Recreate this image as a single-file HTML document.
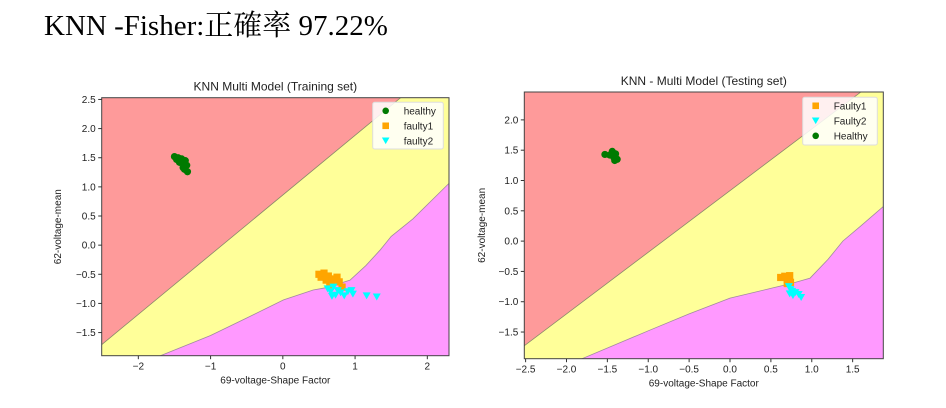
<!DOCTYPE html>
<html><head><meta charset="utf-8">
<style>
body{margin:0;background:#fff;width:946px;height:408px;overflow:hidden;position:relative}
#title{position:absolute;left:44px;top:3px;font:29px "Liberation Serif","Noto Serif CJK SC",serif;color:#000;white-space:nowrap}
svg{position:absolute;left:0;top:0}
text{font-family:"Liberation Sans","DejaVu Sans",sans-serif;fill:#222}
</style></head><body>
<div id="title">KNN -Fisher:正確率 97.22%</div>
<svg id="svg" width="946" height="408"></svg>
<script>
// Boundary data (data coordinates)
const redYellowTrain = [[-2.51,-1.71],[1.65,2.55]];
const magentaTrain = [[-1.70,-1.9],[-1.0,-1.55],[-0.5,-1.25],[0.01,-0.94],[0.42,-0.77],[0.6,-0.73],[0.93,-0.6],[1.15,-0.35],[1.35,-0.08],[1.5,0.15],[1.8,0.45],[2.3,1.06]];
const redYellowTest = [[-2.52,-1.73],[1.61,2.47]];
const magentaTest = [[-1.81,-1.94],[-1.0,-1.48],[-0.5,-1.2],[0,-0.94],[0.53,-0.77],[0.75,-0.7],[0.98,-0.61],[1.2,-0.3],[1.38,0.0],[1.6,0.25],[1.875,0.57]];
const healthyTrain = [[-1.5,1.52],[-1.47,1.47],[-1.45,1.5],[-1.42,1.44],[-1.4,1.48],[-1.38,1.4],[-1.35,1.45],[-1.33,1.37],[-1.36,1.3],[-1.32,1.26],[-1.43,1.42],[-1.38,1.33]];
const faulty1Train = [[0.5,-0.5],[0.53,-0.55],[0.57,-0.48],[0.6,-0.6],[0.63,-0.53],[0.68,-0.62],[0.72,-0.58],[0.75,-0.55],[0.65,-0.68],[0.78,-0.63],[0.82,-0.72]];
const faulty2Train = [[0.62,-0.75],[0.66,-0.8],[0.7,-0.72],[0.73,-0.86],[0.76,-0.78],[0.8,-0.82],[0.85,-0.87],[0.9,-0.8],[0.95,-0.78],[0.97,-0.84],[1.16,-0.87],[1.3,-0.89],[0.68,-0.88]];
const healthyTest = [[-1.53,1.43],[-1.47,1.42],[-1.44,1.48],[-1.42,1.38],[-1.4,1.44],[-1.38,1.35],[-1.41,1.33]];
const faulty1Test = [[0.62,-0.6],[0.67,-0.58],[0.7,-0.63],[0.73,-0.57],[0.7,-0.7],[0.74,-0.68]];
const faulty2Test = [[0.72,-0.75],[0.74,-0.8],[0.73,-0.87],[0.77,-0.9],[0.8,-0.85],[0.84,-0.88],[0.87,-0.93],[0.76,-0.83]];
const xTicksTrain = [-2,-1,0,1,2];
const yTicksTrain = [-1.5,-1.0,-0.5,0.0,0.5,1.0,1.5,2.0,2.5];
const xTicksTest = [-2.5,-2.0,-1.5,-1.0,-0.5,0.0,0.5,1.0,1.5];
const yTicksTest = [-1.5,-1.0,-0.5,0.0,0.5,1.0,1.5,2.0];

const NS='http://www.w3.org/2000/svg';
const svg=document.getElementById('svg');
function mk(tag,attrs,parent){const e=document.createElementNS(NS,tag);for(const k in attrs)e.setAttribute(k,attrs[k]);(parent||svg).appendChild(e);return e;}
function fmt(v,dec){let s=v.toFixed(dec);if(v<0)s='\u2212'+s.slice(1);return s;}

function chart(cfg){
  const g=mk('g',{});
  
  
  const {L,R,T,B,x0,x1,y0,y1}=cfg;
  const sx=v=>L+(v-x0)/(x1-x0)*(R-L);
  const sy=v=>B-(v-y0)/(y1-y0)*(B-T);
  const clipId='clip'+cfg.name;
  const cp=mk('clipPath',{id:clipId},g);mk('rect',{x:L,y:T,width:R-L,height:B-T},cp);
  const pg=mk('g',{'clip-path':'url(#'+clipId+')'},g);
  const bg=mk('rect',{x:L,y:T,width:R-L,height:B-T,fill:'#ffff99'},pg);
  
  
  const ry=cfg.ry;
  let pts=[[sx(x0-1),sy(ry[0][1])],[sx(ry[0][0]),sy(ry[0][1])],[sx(ry[1][0]),sy(ry[1][1])],[sx(ry[1][0]),sy(y1+1)],[sx(x0-1),sy(y1+1)]];
  const red=mk('polygon',{points:pts.map(p=>p.join(',')).join(' '),fill:'#fe9a9a',stroke:'#8a8a6a','stroke-width':0.8},pg);
  
  
  const m=cfg.mg;
  pts=m.map(p=>[sx(p[0]),sy(p[1])]);
  pts.push([sx(x1+1),sy(m[m.length-1][1])],[sx(x1+1),sy(y0-1)],[sx(m[0][0]),sy(y0-1)]);
  const mag=mk('polygon',{points:pts.map(p=>p.join(',')).join(' '),fill:'#ff99ff',stroke:'#a08aa0','stroke-width':0.8},pg);
  
  
  function scatter(arr,type,col,nm){
    arr.forEach(p=>{
      const x=sx(p[0]),y=sy(p[1]);let e;
      if(type==='o')e=mk('circle',{cx:x,cy:y,r:3.6,fill:col},pg);
      else if(type==='s')e=mk('rect',{x:x-3.6,y:y-3.6,width:7.2,height:7.2,fill:col},pg);
      else e=mk('polygon',{points:`${x-4},${y-3.5} ${x+4},${y-3.5} ${x},${y+3.5}`,fill:col},pg);
      
      
    });
  }
  scatter(cfg.h,'o','#007a00','point-healthy');
  scatter(cfg.f1,'s','#ffa500','point-faulty1');
  scatter(cfg.f2,'v','#00ffff','point-faulty2');
  const fr=mk('rect',{x:L,y:T,width:R-L,height:B-T,fill:'none',stroke:'#444','stroke-width':1},g);
  
  
  cfg.xt.forEach(v=>{
    const x=sx(v);mk('line',{x1:x,x2:x,y1:B,y2:B+3.5,stroke:'#333'},g);
    const t=mk('text',{x:x,y:B+14,'font-size':10,'text-anchor':'middle'},g);t.textContent=fmt(v,cfg.xdec);
    
    
  });
  cfg.yt.forEach(v=>{
    const y=sy(v);mk('line',{x1:L-3.5,x2:L,y1:y,y2:y,stroke:'#333'},g);
    const t=mk('text',{x:L-6,y:y+3.5,'font-size':10,'text-anchor':'end'},g);t.textContent=fmt(v,1);
    
    
  });
  let t=mk('text',{x:(L+R)/2,y:T-7,'font-size':12,'text-anchor':'middle'},g);t.textContent=cfg.title;
  
  
  t=mk('text',{x:(L+R)/2,y:B+28,'font-size':10,'text-anchor':'middle'},g);t.textContent='69-voltage-Shape Factor';
  
  
  const yc=(T+B)/2;
  t=mk('text',{x:cfg.ylx,y:yc,'font-size':10,'text-anchor':'middle',transform:`rotate(-90 ${cfg.ylx} ${yc})`},g);t.textContent='62-voltage-mean';
  
  
  const lg=cfg.lg;
  const lb=mk('rect',{x:lg.x,y:lg.y,width:lg.w,height:lg.h,rx:2,fill:'#fff','fill-opacity':0.85,stroke:'#ddd'},g);
  
  
  lg.items.forEach((it,i)=>{
    const cy=lg.y+8.5+i*15, cx=lg.x+13;
    if(it[1]==='o')mk('circle',{cx:cx,cy:cy,r:3.3,fill:it[2]},g);
    else if(it[1]==='s')mk('rect',{x:cx-3.3,y:cy-3.3,width:6.6,height:6.6,fill:it[2]},g);
    else mk('polygon',{points:`${cx-3.8},${cy-3.3} ${cx+3.8},${cy-3.3} ${cx},${cy+3.3}`,fill:it[2]},g);
    const tt=mk('text',{x:lg.x+31,y:cy+3.5,'font-size':10},g);tt.textContent=it[0];
    
    
  });
}
chart({name:'training-chart',L:101.7,R:449,T:97.7,B:355.7,x0:-2.507,x1:2.30,y0:-1.897,y1:2.53,
  ry:redYellowTrain,mg:magentaTrain,h:healthyTrain,f1:faulty1Train,f2:faulty2Train,
  xt:xTicksTrain,yt:yTicksTrain,xdec:0,title:'KNN Multi Model  (Training set)',ylx:61,
  lg:{x:372.7,y:102.3,w:70.6,h:46.7,items:[['healthy','o','#007a00'],['faulty1','s','#ffa500'],['faulty2','v','#00ffff']]}});
chart({name:'testing-chart',L:524.3,R:883.3,T:92,B:358.7,x0:-2.516,x1:1.875,y0:-1.94,y1:2.46,
  ry:redYellowTest,mg:magentaTest,h:healthyTest,f1:faulty1Test,f2:faulty2Test,
  xt:xTicksTest,yt:yTicksTest,xdec:1,title:'KNN - Multi Model  (Testing set)',ylx:485,
  lg:{x:802.7,y:97.3,w:74.6,h:47.7,items:[['Faulty1','s','#ffa500'],['Faulty2','v','#00ffff'],['Healthy','o','#007a00']]}});
</script>
</body></html>
